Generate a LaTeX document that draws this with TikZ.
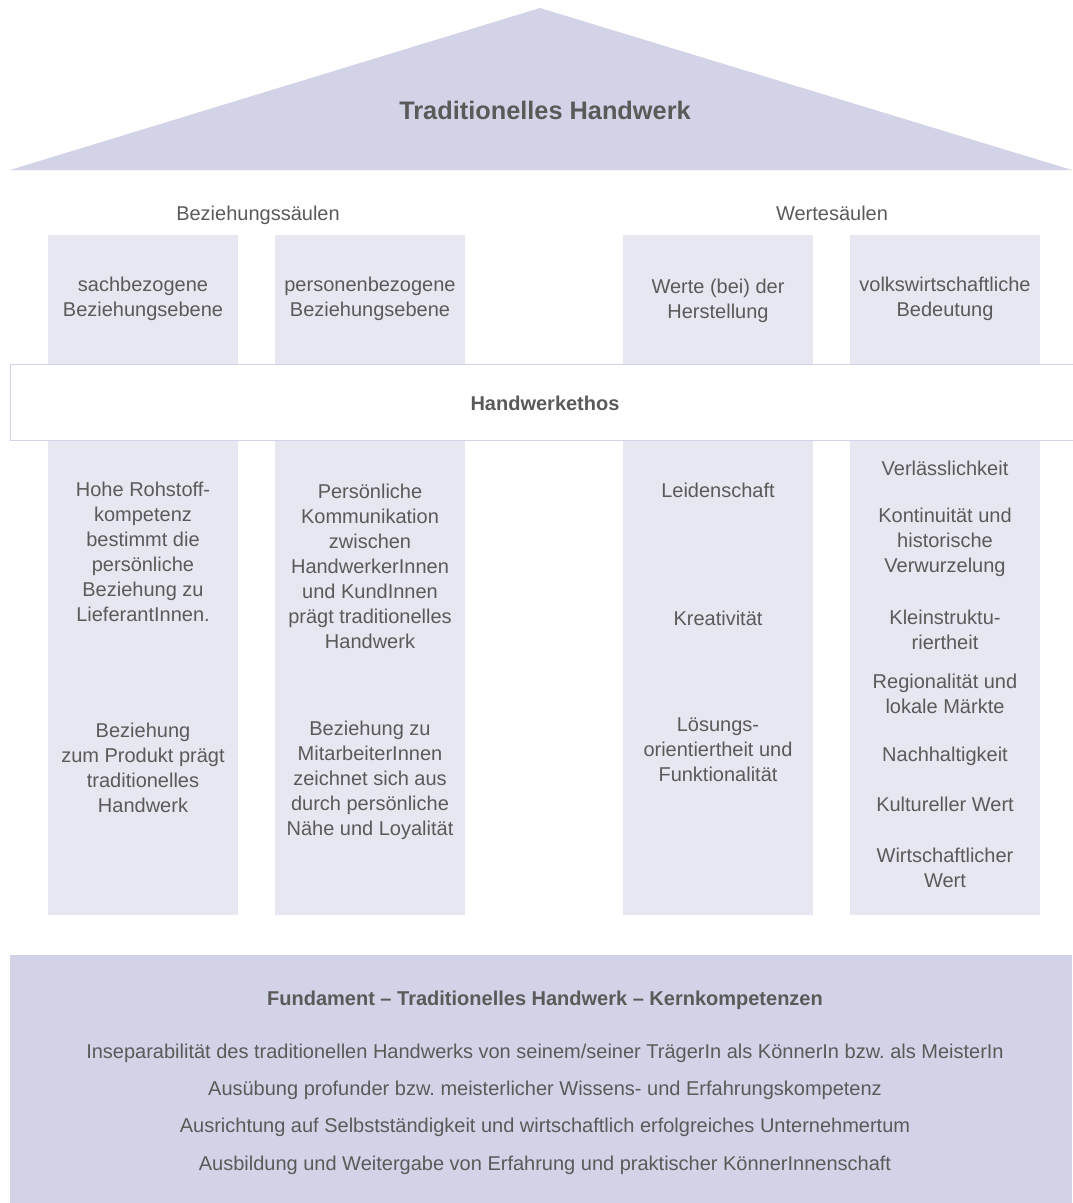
\documentclass[tikz,border=0pt]{standalone}
\usepackage{fontspec}
\setmainfont{Liberation Sans}
\frenchspacing
\definecolor{roof}{HTML}{D3D3E8}
\definecolor{pillar}{HTML}{E7E7F1}
\definecolor{ink}{HTML}{5A5A5A}
\begin{document}
\begin{tikzpicture}[x=0.75pt,y=-0.75pt,
	txt/.style={text=ink,font=\fontsize{15}{18.75}\selectfont,align=center,inner sep=0pt},
	head/.style={txt,font=\fontsize{15}{18.75}\selectfont\bfseries}]
			\useasboundingbox (0,0) rectangle (1072,1203);
			% roof
			\fill[roof] (10,170) -- (540,8) -- (1072,170) -- cycle;
			\node[head,font=\fontsize{19}{22}\selectfont\bfseries] (title) at (545,110) {Traditionelles Handwerk};
			\node[txt] (bez) at (258,215) {Beziehungssäulen};
			\node[txt] (wert) at (832,213) {Wertesäulen};
			% pillars
			\foreach \x in {48,275,623,850}{
				\fill[pillar] (\x,235) rectangle (\x+190,915);
			}
			\node[txt] (sach) at (143,299) {sachbezogene\\Beziehungsebene};
			\node[txt] (pers) at (370,299) {personenbezogene\\Beziehungsebene};
			\node[txt] (herst) at (718,301) {Werte (bei) der\\Herstellung};
			\node[txt] (volk) at (945,299) {volkswirtschaftliche\\Bedeutung};
			% ethos
			\draw[roof,fill=white] (10,364) rectangle (1080,440);
			\node[head] (ethos) at (545,403) {Handwerkethos};
			% pillar texts
			\node[txt] (roh) at (143,552) {Hohe Rohstoff-\\kompetenz\\bestimmt die\\persönliche\\Beziehung zu\\LieferantInnen.};
			\node[txt] (prod) at (143,768) {Beziehung\\zum Produkt prägt\\traditionelles\\Handwerk};
			\node[txt] (komm) at (370,566) {Persönliche\\Kommunikation\\zwischen\\HandwerkerInnen\\und KundInnen\\prägt traditionelles\\Handwerk};
			\node[txt] (mit) at (370,780) {Beziehung zu\\MitarbeiterInnen\\zeichnet sich aus\\durch persönliche\\Nähe und Loyalität};
			\node[txt] (leid) at (718,490) {Leidenschaft};
			\node[txt] (krea) at (718,618) {Kreativität};
			\node[txt] (loes) at (718,750) {Lösungs-\\orientiertheit und\\Funktionalität};
			\node[txt] (verl) at (945,468) {Verlässlichkeit};
			\node[txt] (kont) at (945,542) {Kontinuität und\\historische\\Verwurzelung};
			\node[txt] (klein) at (945,630) {Kleinstruktu-\\riertheit};
			\node[txt] (reg) at (945,694) {Regionalität und\\lokale Märkte};
			\node[txt] (nach) at (945,756) {Nachhaltigkeit};
			\node[txt] (kult) at (945,804) {Kultureller Wert};
			\node[txt] (wirt) at (945,868) {Wirtschaftlicher\\Wert};
			% foundation
			\fill[roof] (10,955) rectangle (1072,1203);
			\node[head] (fund) at (545,1000) {Fundament – Traditionelles Handwerk – Kernkompetenzen};
			\node[txt] (k1) at (545,1053) {Inseparabilität des traditionellen Handwerks von seinem/seiner TrägerIn als KönnerIn bzw. als MeisterIn};
			\node[txt] (k2) at (545,1090) {Ausübung profunder bzw. meisterlicher Wissens- und Erfahrungskompetenz};
			\node[txt] (k3) at (545,1127) {Ausrichtung auf Selbstständigkeit und wirtschaftlich erfolgreiches Unternehmertum};
			\node[txt] (k4) at (545,1165) {Ausbildung und Weitergabe von Erfahrung und praktischer KönnerInnenschaft};
		\end{tikzpicture}
\end{document}
